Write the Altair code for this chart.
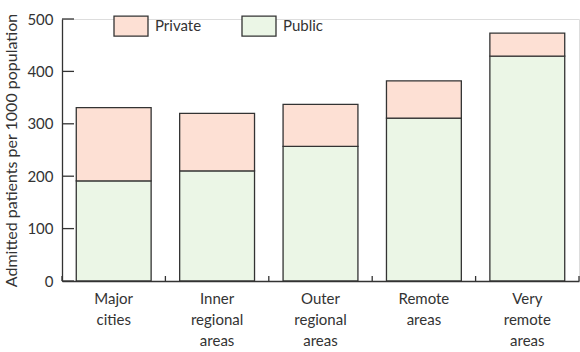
import altair as alt
import pandas as pd

regions = ["Major|cities", "Inner|regional|areas", "Outer|regional|areas", "Remote|areas", "Very|remote|areas"]
public = [191, 210, 257, 311, 429]
total = [331, 320, 337, 382, 473]
private = [t - p for t, p in zip(total, public)]
series = ["Private", "Public"]
colors = ["#FDE0D4", "#EBF6E6"]
y_ticks = [0, 100, 200, 300, 400, 500]
band_edges = [0, 1, 2, 3, 4, 5]

rows = []
for r, pu, pr in zip(regions, public, private):
    rows.append({"region": r, "sector": "Public", "value": pu, "ord": 0})
    rows.append({"region": r, "sector": "Private", "value": pr, "ord": 1})
df = pd.DataFrame(rows)

W, H = 517, 262
FONT = "Lato"
INK = "#333333"

xscale = alt.Scale(paddingInner=0.276, paddingOuter=0.138)
yscale = alt.Scale(domain=[0, 500], nice=False)

bars = alt.Chart(df).mark_bar(stroke=INK, strokeWidth=1.3).encode(
    x=alt.X("region:N", sort=regions, scale=xscale, title=None,
            axis=alt.Axis(orient="bottom", labelExpr="split(datum.label, '|')",
                          labelAngle=0, labelFontSize=15, labelFont=FONT, labelColor=INK,
                          labelLineHeight=21, labelPadding=10, labelBaseline="top",
                          ticks=False, domainColor=INK, domainWidth=1.3,
                          grid=False)),
    y=alt.Y("value:Q", stack="zero", scale=yscale,
            title="Admitted patients per 1000 population",
            axis=alt.Axis(orient="left", values=y_ticks, ticks=False, labelPadding=9,
                          labelFontSize=15, labelFont=FONT, labelColor=INK,
                          domainColor=INK, domainWidth=1.3, grid=False,
                          titleFont=FONT, titleFontSize=16, titleFontWeight="normal",
                          titleColor=INK, titleAngle=270, titleX=-46, titleY=131,
                          titleAlign="center", titleBaseline="alphabetic")),
    color=alt.Color("sector:N", scale=alt.Scale(domain=series, range=colors),
                    legend=alt.Legend(orient="none", legendX=51, legendY=-11,
                                      direction="horizontal", title=None,
                                      symbolType="M-1,-0.588H1V0.588H-1Z",
                                      symbolSize=1156, symbolStrokeColor=INK,
                                      symbolStrokeWidth=1.3, symbolOpacity=1,
                                      labelFont=FONT, labelFontSize=15, labelColor=INK,
                                      labelOffset=6, columnPadding=37, padding=0)),
    order=alt.Order("ord:Q"),
)

ytick_layer = alt.Chart(pd.DataFrame({"v": y_ticks})).mark_rule(
    color=INK, strokeWidth=1.3
).encode(
    y=alt.Y("v:Q", scale=yscale, axis=None),
    x=alt.value(0),
    x2=alt.value(12),
)

xtick_layer = alt.Chart(pd.DataFrame({"b": band_edges})).mark_rule(
    color=INK, strokeWidth=1.3
).encode(
    x=alt.X("b:Q", scale=alt.Scale(domain=[0, 5], nice=False, zero=False), axis=None),
    y=alt.value(H - 5),
    y2=alt.value(H),
)

chart = alt.layer(bars, ytick_layer, xtick_layer).resolve_scale(
    x="independent"
).resolve_axis(
    x="independent", y="independent"
).properties(
    width=W, height=H,
    autosize=alt.AutoSizeParams(type="none"),
    padding={"left": 62, "top": 19, "right": 1, "bottom": 71},
).configure_view(stroke=None).configure(background="white")

chart.save("out.html", embed_options={"renderer": "svg", "actions": False})
